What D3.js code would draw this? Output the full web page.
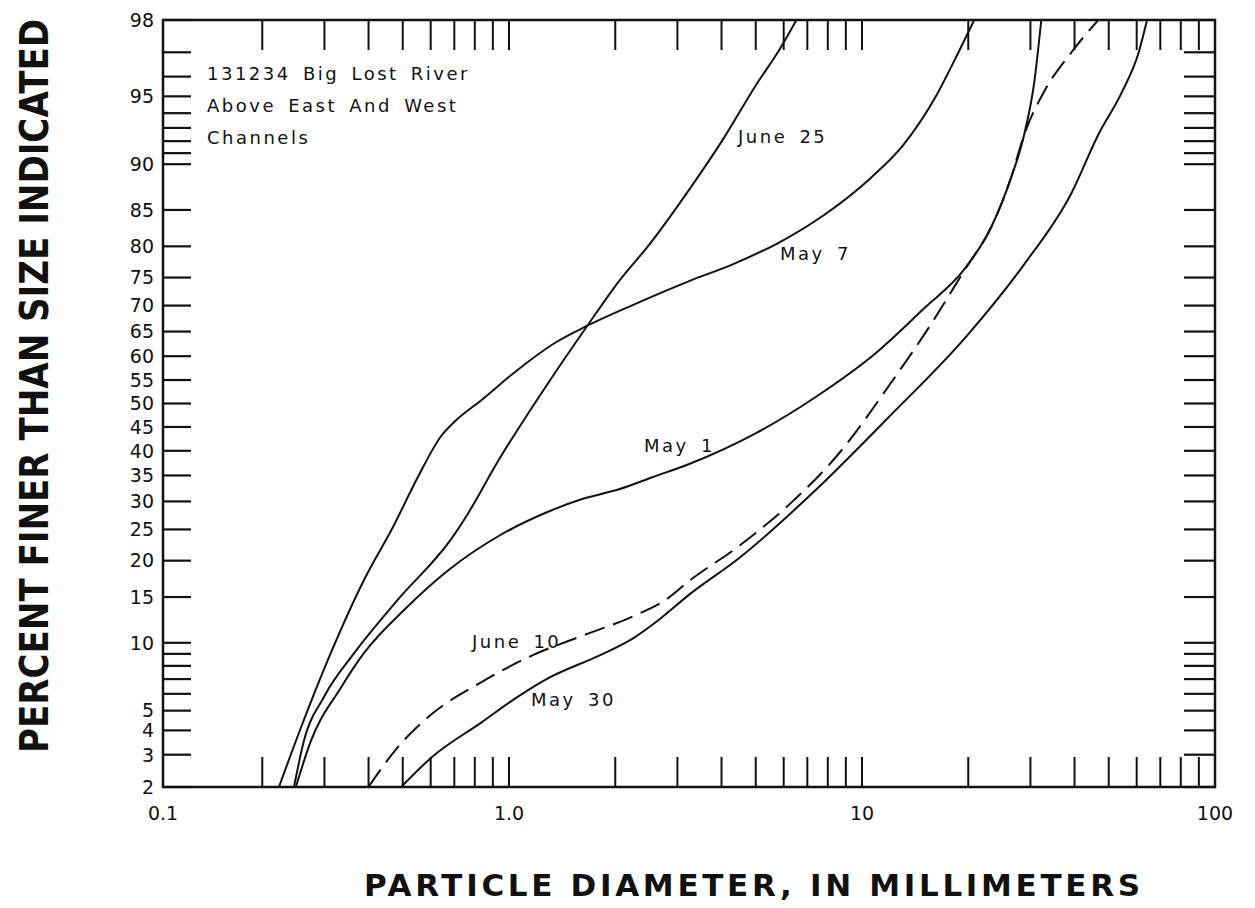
<!DOCTYPE html>
<html>
<head>
<meta charset="utf-8">
<script src="https://cdn.jsdelivr.net/npm/d3@7"></script>
<style>
  body { margin: 0; background: #fff; }
  svg { display: block; }
  .tick-label { font-family: "DejaVu Sans", sans-serif; font-size: 19px; fill: #111; }
  .note { font-family: "DejaVu Sans", sans-serif; font-size: 18px; fill: #111; letter-spacing: 2.5px; word-spacing: 4px; }
  .axis-title { font-family: "DejaVu Sans", sans-serif; font-weight: bold; fill: #111; }
</style>
</head>
<body>
<div id="chart"></div>
<script>
// tick values
var xTicks = [0.2, 0.3, 0.4, 0.5, 0.6, 0.7, 0.8, 0.9, 1, 2, 3, 4, 5, 6, 7, 8, 9, 10, 20, 30, 40, 50, 60, 70, 80, 90];
var xLabels = [0.1, 1, 10, 100];
var xLabelText = ["0.1", "1.0", "10", "100"];
var yTicks = [98, 97, 96, 95, 94, 93, 92, 91, 90, 85, 80, 75, 70, 65, 60, 55, 50, 45, 40, 35, 30, 25, 20, 15, 10, 9, 8, 7, 6, 5, 4, 3, 2];
var yLabels = [98, 95, 90, 85, 80, 75, 70, 65, 60, 55, 50, 45, 40, 35, 30, 25, 20, 15, 10, 5, 4, 3, 2];

// curves: particle diameter (mm) and percent finer
var may7Diam = [0.223, 0.257, 0.313, 0.389, 0.47, 0.552, 0.644, 0.703, 0.838, 1.04, 1.355, 1.65, 2.24, 3.24, 4.30, 5.84, 7.77, 10.55, 13.1, 16.3, 18.6, 20.8];
var may7Pct  = [2, 4.1, 9.1, 17.3, 25.5, 34.7, 43.2, 46.2, 50.8, 56.7, 62.8, 66, 70.1, 74.4, 77.2, 80.6, 84.3, 88.6, 91.7, 95.1, 96.9, 98];

var june25Diam = [0.246, 0.262, 0.299, 0.365, 0.485, 0.688, 0.75, 0.935, 1.30, 1.65, 2.05, 2.50, 3.24, 4.03, 5.01, 5.84, 6.52];
var june25Pct  = [2, 3.5, 5.8, 9.1, 14.7, 23.5, 26.9, 38.1, 54.7, 65.7, 74.4, 80.3, 87.4, 92.1, 95.6, 97.1, 98];

var may1Diam = [0.249, 0.274, 0.334, 0.389, 0.506, 0.673, 0.935, 1.30, 1.62, 2.05, 2.56, 3.24, 5.01, 7.43, 10.8, 15.0, 19.5, 23.2, 26.4, 28.8, 30.8, 32.2];
var may1Pct  = [2, 3.5, 6.4, 9.1, 13.5, 18.6, 23.9, 28.2, 30.5, 32.3, 34.7, 37.3, 43.7, 51.5, 60.3, 69.5, 76.4, 82.7, 88.6, 92.5, 95.8, 98];

var june10Diam = [0.40, 0.485, 0.603, 0.838, 1.16, 1.62, 2.24, 2.79, 3.24, 4.49, 6.24, 8.66, 12.0, 15.6, 19.5, 23.2, 26.4, 28.8, 32.9, 39.2, 46.7];
var june10Pct  = [2, 3.3, 4.8, 6.8, 8.85, 10.7, 12.7, 14.7, 17.1, 22.3, 29.5, 39.7, 54.1, 66.2, 76.2, 82.7, 88.6, 92.5, 95.3, 97.0, 98];

var may30Diam = [0.495, 0.603, 0.838, 1.04, 1.30, 1.80, 2.24, 2.67, 3.24, 4.49, 7.43, 11.8, 19.9, 28.8, 39.2, 46.7, 54.4, 60.8, 64.2];
var may30Pct  = [2, 2.9, 4.4, 5.7, 7.1, 8.85, 10.4, 12.4, 15.3, 20.4, 32.3, 46.8, 64.3, 77.2, 87.0, 92.5, 95.2, 97.0, 98];

var seriesNames = ["May 7", "June 25", "May 1", "June 10", "May 30"];
var seriesDiam = [may7Diam, june25Diam, may1Diam, june10Diam, may30Diam];
var seriesPct = [may7Pct, june25Pct, may1Pct, june10Pct, may30Pct];
var seriesDashed = [false, false, false, true, false];

var noteLines = ["131234  Big Lost River", "Above East And West", "Channels"];

// layout
var width = 1255, height = 908;
var frame = { left: 163, right: 1215, top: 20, bottom: 787 };

// inverse of the normal CDF (Acklam)
function probit(p) {
  var a = [-3.969683028665376e+01, 2.209460984245205e+02, -2.759285104469687e+02, 1.383577518672690e+02, -3.066479806614716e+01, 2.506628277459239e+00];
  var b = [-5.447609879822406e+01, 1.615858368580409e+02, -1.556989798598866e+02, 6.680131188771972e+01, -1.328068155288572e+01];
  var c = [-7.784894002430293e-03, -3.223964580411365e-01, -2.400758277161838e+00, -2.549732539343734e+00, 4.374664141464968e+00, 2.938163982698783e+00];
  var d = [7.784695709041462e-03, 3.224671290700398e-01, 2.445134137142996e+00, 3.754408661907416e+00];
  var pl = 0.02425, q, r;
  if (p < pl) {
    q = Math.sqrt(-2 * Math.log(p));
    return (((((c[0]*q+c[1])*q+c[2])*q+c[3])*q+c[4])*q+c[5]) / ((((d[0]*q+d[1])*q+d[2])*q+d[3])*q+1);
  } else if (p <= 1 - pl) {
    q = p - 0.5; r = q * q;
    return (((((a[0]*r+a[1])*r+a[2])*r+a[3])*r+a[4])*r+a[5])*q / (((((b[0]*r+b[1])*r+b[2])*r+b[3])*r+b[4])*r+1);
  } else {
    q = Math.sqrt(-2 * Math.log(1 - p));
    return -(((((c[0]*q+c[1])*q+c[2])*q+c[3])*q+c[4])*q+c[5]) / ((((d[0]*q+d[1])*q+d[2])*q+d[3])*q+1);
  }
}

var svg = d3.select("#chart").append("svg")
  .attr("width", width)
  .attr("height", height);

// log x scale, probability y scale
var x = d3.scaleLog().domain([0.1, 100]).range([156, 1215]);
var zScale = d3.scaleLinear().domain([probit(0.02), probit(0.98)]).range([frame.bottom, frame.top]);
var y = function (pct) { return zScale(probit(pct / 100)); };

// ticks along the four sides
var tickLen = 30;
svg.append("g").selectAll("line")
  .data(xTicks).enter().append("line")
  .attr("x1", function (d) { return x(d); }).attr("x2", function (d) { return x(d); })
  .attr("y1", frame.bottom).attr("y2", frame.bottom - tickLen)
  .attr("stroke", "#111").attr("stroke-width", 2);
svg.append("g").selectAll("line")
  .data(xTicks).enter().append("line")
  .attr("x1", function (d) { return x(d); }).attr("x2", function (d) { return x(d); })
  .attr("y1", frame.top).attr("y2", frame.top + tickLen)
  .attr("stroke", "#111").attr("stroke-width", 2);
svg.append("g").selectAll("line")
  .data(yTicks).enter().append("line")
  .attr("x1", frame.left).attr("x2", frame.left + 28)
  .attr("y1", function (d) { return y(d); }).attr("y2", function (d) { return y(d); })
  .attr("stroke", "#111").attr("stroke-width", 2.2);
svg.append("g").selectAll("line")
  .data(yTicks).enter().append("line")
  .attr("x1", frame.right - 31).attr("x2", frame.right)
  .attr("y1", function (d) { return y(d); }).attr("y2", function (d) { return y(d); })
  .attr("stroke", "#111").attr("stroke-width", 2.2);

// frame
svg.append("rect")
  .attr("x", frame.left).attr("y", frame.top)
  .attr("width", frame.right - frame.left).attr("height", frame.bottom - frame.top)
  .attr("fill", "none").attr("stroke", "#111").attr("stroke-width", 2.5);

// tick labels
svg.append("g").selectAll("text")
  .data(yLabels).enter().append("text")
  .attr("class", "tick-label")
  .attr("x", frame.left - 9)
  .attr("y", function (d) { return y(d); })
  .attr("dy", "0.36em")
  .attr("text-anchor", "end")
  .text(function (d) { return d; });
svg.append("g").selectAll("text")
  .data(xLabels).enter().append("text")
  .attr("class", "tick-label")
  .attr("x", function (d, i) { return i == 0 ? frame.left : x(d); })
  .attr("y", frame.bottom + 33)
  .attr("text-anchor", "middle")
  .text(function (d, i) { return xLabelText[i]; });

// curves
var line = d3.line()
  .x(function (d) { return x(d[0]); })
  .y(function (d) { return y(d[1]); })
  .curve(d3.curveMonotoneX);

svg.append("g").selectAll("path")
  .data(seriesNames).enter().append("path")
  .attr("d", function (d, i) { return line(d3.zip(seriesDiam[i], seriesPct[i])); })
  .attr("fill", "none")
  .attr("stroke", "#111")
  .attr("stroke-width", 2)
  .attr("stroke-dasharray", function (d, i) { return seriesDashed[i] ? "21,9" : null; });

// curve labels
var curveLabels = [
  { text: "June 25", x: 738, y: 143 },
  { text: "May 7", x: 780, y: 260 },
  { text: "May 1", x: 644, y: 452 },
  { text: "June 10", x: 472, y: 648 },
  { text: "May 30", x: 531, y: 706 }
];
svg.append("g").selectAll("text")
  .data(curveLabels).enter().append("text")
  .attr("class", "note")
  .attr("x", function (d) { return d.x; })
  .attr("y", function (d) { return d.y; })
  .text(function (d) { return d.text; });

// station note
svg.append("g").selectAll("text")
  .data(noteLines).enter().append("text")
  .attr("class", "note")
  .attr("x", 207)
  .attr("y", function (d, i) { return 80 + i * 32; })
  .text(function (d) { return d; });

// axis titles
svg.append("text")
  .attr("class", "axis-title")
  .style("font-size", "31px")
  .attr("x", 364).attr("y", 896)
  .attr("textLength", 776).attr("lengthAdjust", "spacing")
  .text("PARTICLE DIAMETER, IN MILLIMETERS");

// taller, narrower lettering on the vertical title
svg.append("text")
  .attr("class", "axis-title")
  .style("font-size", "29px")
  .attr("transform", "translate(48,753) rotate(-90) scale(1,1.35)")
  .attr("textLength", 734).attr("lengthAdjust", "spacingAndGlyphs")
  .text("PERCENT FINER THAN SIZE INDICATED");
</script>
</body>
</html>
